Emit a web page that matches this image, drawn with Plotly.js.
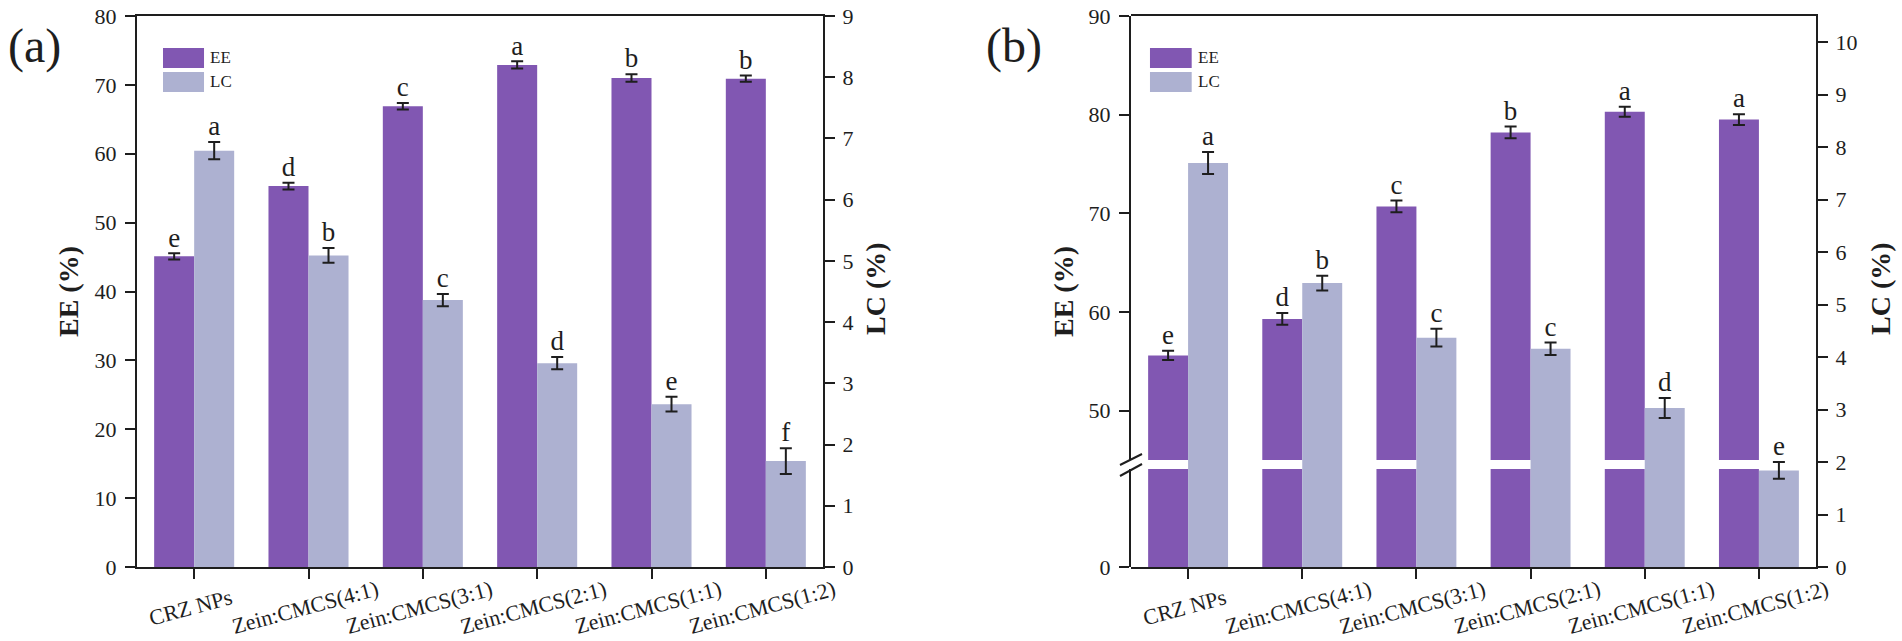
<!DOCTYPE html>
<html>
<head>
<meta charset="utf-8">
<script src="https://cdn.plot.ly/plotly-3.0.1.min.js"></script>
<style>
  html, body { margin: 0; padding: 0; background: #fff; }
  #chart { width: 1902px; height: 641px; }
</style>
</head>
<body>
<div id="chart"></div>
<script>
// EE / LC 막대 두 패널 — (a) 연속 축, (b) 왼쪽 축 절단(0–45 / 45–90)

// ── 데이터 ──
const categories = ['CRZ NPs', 'Zein:CMCS(4:1)', 'Zein:CMCS(3:1)', 'Zein:CMCS(2:1)', 'Zein:CMCS(1:1)', 'Zein:CMCS(1:2)'];
const seriesNames = ['EE', 'LC'];

const eeA = [45.1, 55.3, 66.9, 72.9, 71.0, 70.9];
const eeErrA = [0.45, 0.5, 0.48, 0.52, 0.55, 0.45];
const eeLetA = ['e', 'd', 'c', 'a', 'b', 'b'];
const lcA = [6.80, 5.09, 4.36, 3.33, 2.66, 1.73];
const lcErrA = [0.14, 0.12, 0.10, 0.10, 0.12, 0.21];
const lcLetA = ['a', 'b', 'c', 'd', 'e', 'f'];

const eeB = [55.6, 59.3, 70.7, 78.2, 80.3, 79.5];
const eeErrB = [0.46, 0.6, 0.6, 0.6, 0.5, 0.55];
const eeLetB = ['e', 'd', 'c', 'b', 'a', 'a'];
const lcB = [7.70, 5.41, 4.37, 4.16, 3.03, 1.84];
const lcErrB = [0.21, 0.14, 0.17, 0.12, 0.19, 0.16];
const lcLetB = ['a', 'b', 'c', 'c', 'd', 'e'];

// ── 스타일 ──
const W = 1902, H = 641;
const FONT = 'Liberation Serif, Times New Roman, serif';
const INK = '#1e1e1e';
const C_EE = '#8157b2';
const C_LC = '#adb1d1';
const BAR_W = 0.35;

const px = (x) => x / W;
const py = (y) => 1 - y / H;
const idx = categories.map((_, i) => i);

function barTrace(vals, errs, color, offset, xa, ya) {
  const t = {
    type: 'bar', x: idx, y: vals, width: BAR_W, offset,
    marker: { color, line: { width: 0 } },
    xaxis: xa, yaxis: ya, showlegend: false, hoverinfo: 'skip',
  };
  if (errs) t.error_y = { type: 'data', array: errs, visible: true, color: INK, thickness: 2, width: 6 };
  return t;
}
function letterTrace(vals, errs, letters, offset, xa, ya) {
  return {
    type: 'scatter', mode: 'text',
    x: idx.map((i) => i + offset + BAR_W / 2),
    y: vals.map((v, k) => v + errs[k]),
    text: letters, textposition: 'top center',
    textfont: { family: FONT, size: 27, color: INK },
    cliponaxis: false, xaxis: xa, yaxis: ya, showlegend: false, hoverinfo: 'skip',
  };
}

const traces = [
  // (a)
  barTrace(eeA, eeErrA, C_EE, -BAR_W, 'x', 'y'),
  barTrace(lcA, lcErrA, C_LC, 0, 'x', 'y2'),
  letterTrace(eeA, eeErrA, eeLetA, -BAR_W, 'x', 'y'),
  letterTrace(lcA, lcErrA, lcLetA, 0, 'x', 'y2'),
  // (b) EE: 아래 구간 + 위 구간, LC: 전체 높이
  barTrace(eeB, null, C_EE, -BAR_W, 'x3', 'y3'),
  barTrace(eeB, eeErrB, C_EE, -BAR_W, 'x3', 'y4'),
  barTrace(lcB, lcErrB, C_LC, 0, 'x4', 'y5'),
  letterTrace(eeB, eeErrB, eeLetB, -BAR_W, 'x3', 'y4'),
  letterTrace(lcB, lcErrB, lcLetB, 0, 'x4', 'y5'),
];

// ── 축 ──
const tickFont = { family: FONT, size: 22, color: INK };
const axBase = {
  showgrid: false, zeroline: false, showline: true, linewidth: 2, linecolor: INK,
  ticks: 'outside', ticklen: 10, tickwidth: 2, tickcolor: INK, tickfont: tickFont,
};
const xBase = { ...axBase, range: [-0.5, 5.5], tickvals: idx, showticklabels: false };

const domA = [px(137), px(823)];
const domB = [px(1131), px(1816)];
const domFull = [py(567), py(16)];

const layout = {
  width: W, height: H,
  margin: { l: 0, r: 0, t: 0, b: 0 },
  paper_bgcolor: '#fff', plot_bgcolor: 'rgba(0,0,0,0)',
  barmode: 'overlay',
  showlegend: false,
  font: { family: FONT, color: INK },
  xaxis: { ...xBase, domain: domA, anchor: 'y', mirror: true },
  yaxis: { ...axBase, domain: domFull, range: [0, 80], dtick: 10, anchor: 'x', ticklabelstandoff: 4 },
  yaxis2: { ...axBase, overlaying: 'y', side: 'right', range: [0, 9], dtick: 1, anchor: 'x', ticklabelstandoff: 3 },
  xaxis3: { ...xBase, domain: domB, anchor: 'y3', visible: false },
  yaxis3: { ...axBase, domain: [py(567), py(469)], range: [0, 45], tickvals: [0], anchor: 'x3', ticklabelstandoff: 4 },
  yaxis4: { ...axBase, domain: [py(460), py(16)], range: [45, 90], tickvals: [50, 60, 70, 80, 90], anchor: 'x3', ticklabelstandoff: 4 },
  xaxis4: { ...xBase, domain: domB, anchor: 'y5', mirror: true },
  yaxis5: { ...axBase, domain: domFull, side: 'right', range: [0, 10.5], dtick: 1, anchor: 'x4', ticklabelstandoff: 3 },
  shapes: [],
  annotations: [],
};

// ── 범례 (큰 사각 견본) ──
function addLegend(xref, yref, x0, x1, tx) {
  const rows = [[0.942, 0.9056], [0.8984, 0.8621]];
  seriesNames.forEach((name, k) => {
    const [ya, yb] = rows[k];
    layout.shapes.push({
      type: 'rect', xref, yref, x0, x1, y0: yb, y1: ya,
      fillcolor: k === 0 ? C_EE : C_LC, line: { width: 0 },
    });
    layout.annotations.push({
      xref, yref, x: tx, y: (ya + yb) / 2, xanchor: 'left', yanchor: 'middle',
      text: name, showarrow: false, font: { family: FONT, size: 17, color: INK },
    });
  });
}
addLegend('x domain', 'y domain', 0.0379, 0.0977, 0.104);
addLegend('x4 domain', 'y5 domain', 0.0277, 0.0886, 0.0945);

// ── 범주 라벨 (기울인 텍스트, 눈금 중앙) ──
['x', 'x4'].forEach((xref) => {
  categories.forEach((c, i) => {
    layout.annotations.push({
      xref, yref: 'paper', x: i, y: py(607), xshift: -4,
      xanchor: 'center', yanchor: 'middle',
      text: c, textangle: -15, showarrow: false, font: tickFont,
    });
  });
});

// ── 패널 표기 · 축 제목 ──
const titleFont = { family: FONT, size: 28, color: INK };
const centered = (x, y, text, extra) => ({
  xref: 'paper', yref: 'paper', x: px(x), y: py(y), xanchor: 'center', yanchor: 'middle',
  text, showarrow: false, ...extra,
});
layout.annotations.push(
  centered(34, 46, '(a)', { font: { family: FONT, size: 48, color: INK } }),
  centered(1014, 46, '(b)', { font: { family: FONT, size: 48, color: INK } }),
  centered(68, 292, '<b>EE (%)</b>', { textangle: -90, font: titleFont }),
  centered(875, 289, '<b>LC (%)</b>', { textangle: -90, font: titleFont }),
  centered(1063, 292, '<b>EE (%)</b>', { textangle: -90, font: titleFont }),
  centered(1880, 289, '<b>LC (%)</b>', { textangle: -90, font: titleFont }),
);

// ── 축 절단 표시 (//) ──
layout.shapes.push(
  { type: 'line', xref: 'paper', yref: 'paper', x0: px(1120), y0: py(465), x1: px(1142), y1: py(454), line: { color: INK, width: 2 } },
  { type: 'line', xref: 'paper', yref: 'paper', x0: px(1120), y0: py(476), x1: px(1142), y1: py(464), line: { color: INK, width: 2 } },
);

Plotly.newPlot('chart', traces, layout, { displayModeBar: false, staticPlot: true });
</script>
</body>
</html>
